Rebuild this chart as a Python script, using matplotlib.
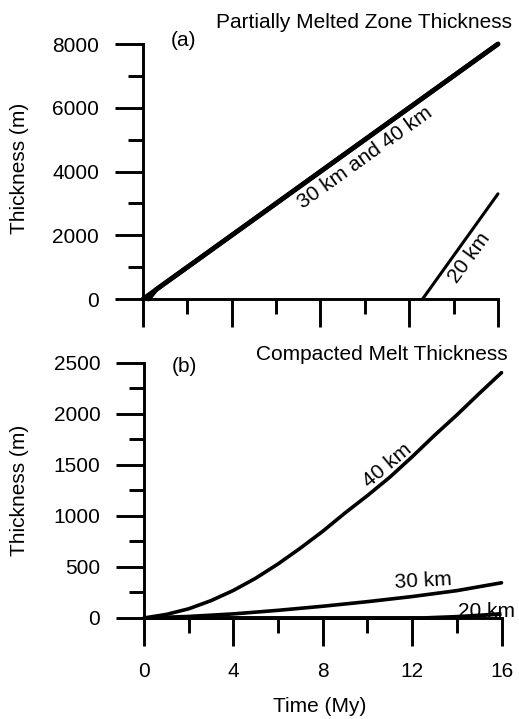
import matplotlib.pyplot as plt
from matplotlib.ticker import MultipleLocator

plt.rcParams['font.family'] = ['Liberation Sans', 'DejaVu Sans']
plt.rcParams['font.size'] = 15

# (a) partially melted zone thickness, m
t_40a = [0, 16]
pmz_40 = [0, 8000]
t_30a = [0.25, 0.6, 16]
pmz_30 = [0, 300, 8000]
t_20a = [12.6, 16]
pmz_20 = [0, 3300]

# (b) compacted melt thickness, m
t_40b = [0, 1, 2, 3, 4, 5, 6, 7, 8, 9, 10, 11, 12, 13, 14, 15, 16]
melt_40 = [0, 35, 90, 170, 270, 390, 530, 685, 850, 1030, 1200, 1380, 1580, 1790, 1990, 2200, 2405]
t_30b = [0, 2, 4, 6, 8, 10, 12, 14, 16]
melt_30 = [0, 15, 40, 75, 115, 160, 210, 268, 345]
t_20b = [0, 12.6, 14, 15, 16]
melt_20 = [0, 0, 12, 25, 40]

x_ticks = [0, 4, 8, 12, 16]

fig = plt.figure(figsize=(5.19, 7.19), dpi=100)
ax1 = fig.add_axes([0.2755, 0.5841, 0.684, 0.3547])
ax2 = fig.add_axes([0.2775, 0.1405, 0.6888, 0.3547])


def style(ax):
    for s in ['top', 'right']:
        ax.spines[s].set_visible(False)
    for s in ['left', 'bottom']:
        ax.spines[s].set_linewidth(2.1)
    ax.set_xlim(0, 16)
    ax.set_xticks(x_ticks)
    ax.xaxis.set_minor_locator(MultipleLocator(2))
    ax.tick_params(which='major', direction='out', length=20.5, width=2.1)
    ax.tick_params(which='minor', direction='out', length=11, width=2.1)
    ax.tick_params(axis='y', pad=11)
    ax.tick_params(axis='x', pad=11)
    ax.patch.set_visible(False)


style(ax1)
ax1.set_ylim(0, 8000)
ax1.set_yticks([0, 2000, 4000, 6000, 8000])
ax1.yaxis.set_minor_locator(MultipleLocator(1000))
ax1.tick_params(axis='x', labelbottom=False)
ax1.plot(t_40a, pmz_40, color='black', lw=3.4, solid_capstyle='round', clip_on=False)
ax1.plot(t_30a, pmz_30, color='black', lw=3.4, solid_capstyle='round', clip_on=False)
ax1.plot(t_20a, pmz_20, color='black', lw=2.2, solid_capstyle='round', clip_on=False)
ax1.text(10.0, 4420, '30 km and 40 km', rotation=35.7, ha='center', va='center',
         rotation_mode='anchor')
ax1.text(14.7, 1290, '20 km', rotation=53.8, ha='center', va='center',
         rotation_mode='anchor')

style(ax2)
ax2.set_ylim(0, 2500)
ax2.set_yticks([0, 500, 1000, 1500, 2000, 2500])
ax2.yaxis.set_minor_locator(MultipleLocator(250))
ax2.plot(t_40b, melt_40, color='black', lw=2.6, solid_capstyle='round', clip_on=False)
ax2.plot(t_30b, melt_30, color='black', lw=2.6, solid_capstyle='round', clip_on=False)
ax2.plot(t_20b, melt_20, color='black', lw=2.8, solid_capstyle='butt', clip_on=False)
ax2.text(10.9, 1500, '40 km', rotation=40, ha='center', va='center',
         rotation_mode='anchor')
ax2.text(12.5, 363, '30 km', rotation=3, ha='center', va='center',
         rotation_mode='anchor')
ax2.text(15.35, 62, '20 km', ha='center', va='center')

# panel titles and tags
fig.text(512 / 519, 1 - 22 / 719, 'Partially Melted Zone Thickness', ha='right', va='center')
fig.text(183 / 519, 1 - 40 / 719, '(a)', ha='center', va='center')
fig.text(508 / 519, 1 - 355 / 719, 'Compacted Melt Thickness', ha='right', va='center')
fig.text(184 / 519, 1 - 366 / 719, '(b)', ha='center', va='center')

fig.text(20 / 519, 1 - 168 / 719, 'Thickness (m)', rotation=90, ha='center', va='center')
fig.text(20 / 519, 1 - 490 / 719, 'Thickness (m)', rotation=90, ha='center', va='center')
fig.text(320 / 519, 1 - 707 / 719, 'Time (My)', ha='center', va='center')

fig.savefig('out.png', dpi=100)
